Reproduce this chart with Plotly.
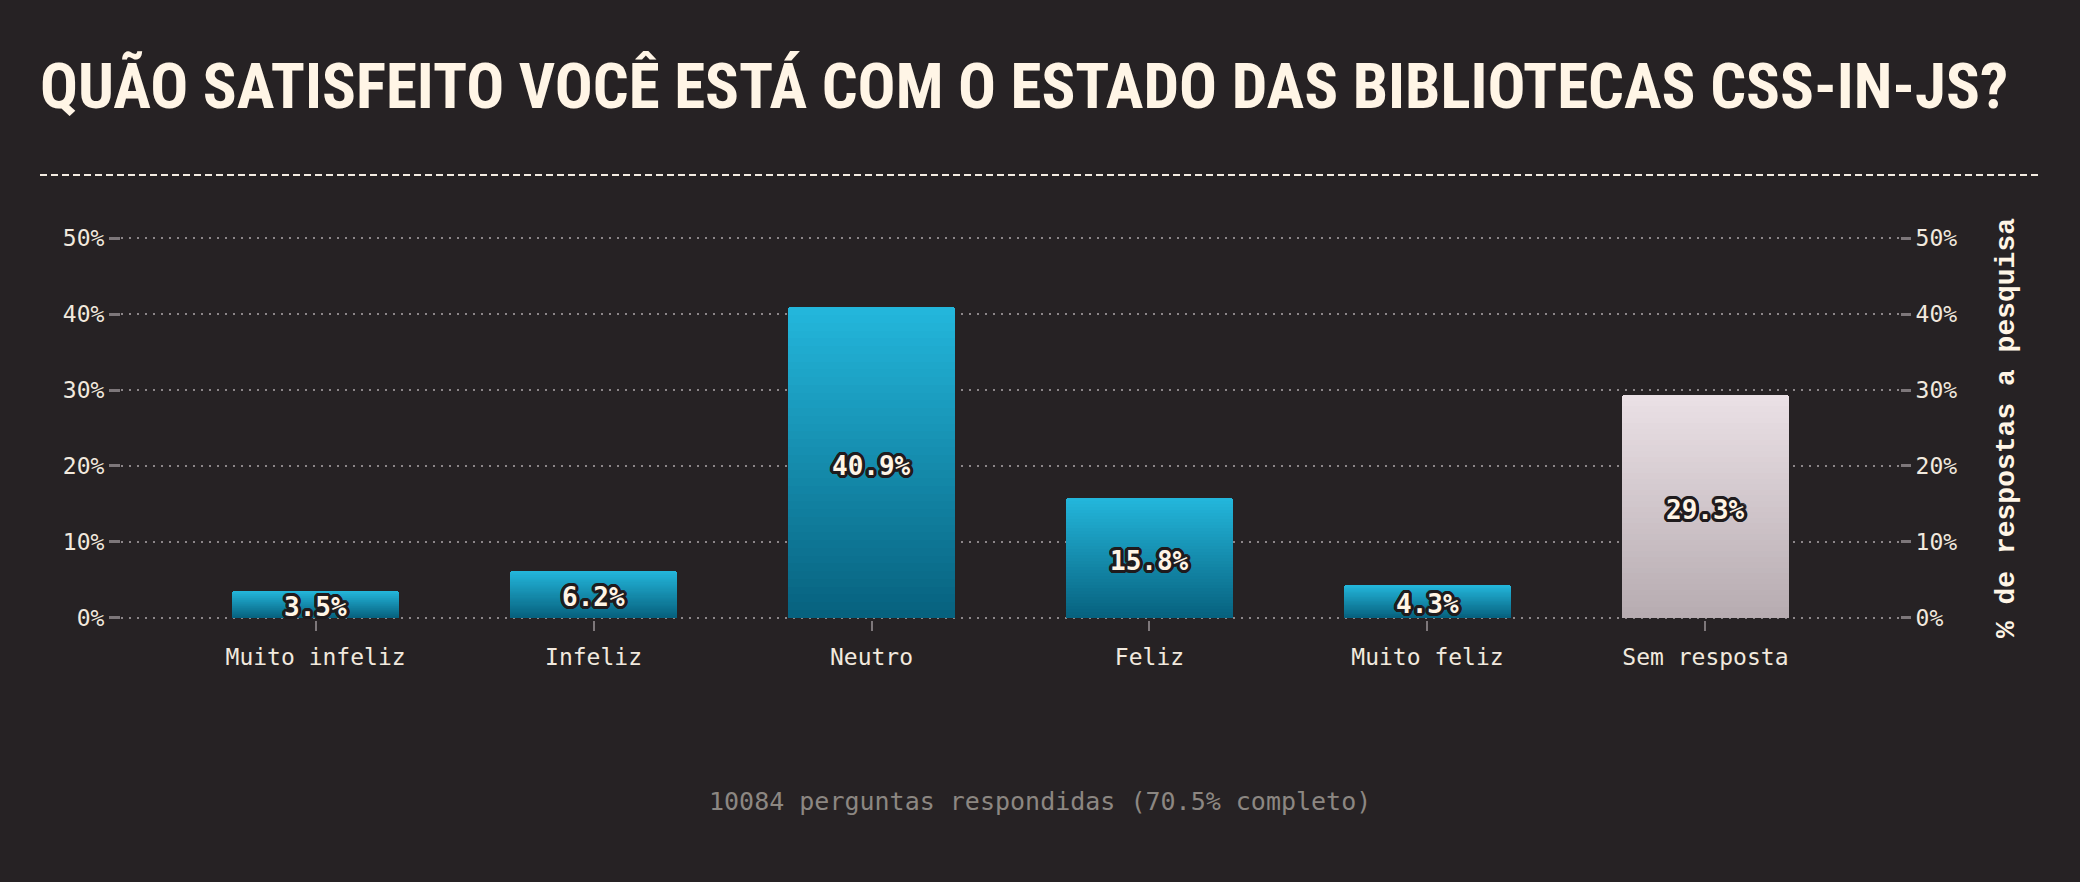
import plotly.graph_objects as go
import math

# ---- data ----
categories = ["Muito infeliz", "Infeliz", "Neutro", "Feliz", "Muito feliz", "Sem resposta"]
values = [3.5, 6.2, 40.9, 15.8, 4.3, 29.3]
tick_vals = [0, 10, 20, 30, 40, 50]
tick_text = ["0%", "10%", "20%", "30%", "40%", "50%"]
title_text = "QUÃO SATISFEITO VOCÊ ESTÁ COM O ESTADO DAS BIBLIOTECAS CSS-IN-JS?"
footer_text = "10084 perguntas respondidas (70.5% completo)"
axis_title = "% de respostas a pesquisa"

# ---- style ----
W, H = 2080, 882
BG = "#262224"
CREAM = "#fff5e6"
L, R, T, B = 121, 180, 236, 262
PH = H - T - B
YPAD = 0.3
blue_top, blue_bot = (0x23, 0xb6, 0xdb), (0x07, 0x62, 0x7f)
grey_top, grey_bot = (0xea, 0xe0, 0xe5), (0xb7, 0xac, 0xb1)

def mix(a, b, t):
    return "rgb(%d,%d,%d)" % tuple(round(a[i] + (b[i] - a[i]) * t) for i in range(3))

def paper_y(px):
    # pixel row -> paper coordinate
    return (H - B - px) / PH

fig = go.Figure()

N = 40
for k in range(N):
    t = k / (N - 1)
    colors = [mix(grey_top, grey_bot, t) if c == "Sem resposta" else mix(blue_top, blue_bot, t)
              for c in categories]
    marker = dict(color=colors, line=dict(width=0))
    if k == 0:
        marker["cornerradius"] = 3
    fig.add_trace(go.Bar(
        x=categories, y=[v * (N - k) / N for v in values],
        width=0.6, marker=marker, hoverinfo="skip", showlegend=False,
    ))

dirs = []
for i in range(16):
    a = 2 * math.pi * i / 16
    dirs.append("%.1fpx %.1fpx 0 #1f1b1d" % (3.2 * math.cos(a), 3.2 * math.sin(a)))
shadow = ", ".join(dirs)

fig.add_trace(go.Scatter(x=categories, y=values, yaxis="y2", mode="markers",
                         marker=dict(opacity=0), hoverinfo="skip", showlegend=False))

tickfont = dict(family="DejaVu Sans Mono", size=23, color="#f1e9de")

annotations = []
for c, v in zip(categories, values):
    annotations.append(dict(
        x=c, y=v / 2, xref="x", yref="y", text="%.1f%%" % v, showarrow=False,
        yshift=-3,
        font=dict(family="DejaVu Sans Mono", size=26, color=CREAM, weight="bold", shadow=shadow),
    ))
annotations.append(dict(
    text=footer_text, xref="paper", yref="paper",
    x=(1040 - L) / (W - L - R), y=paper_y(801),
    xanchor="center", yanchor="middle", showarrow=False,
    font=dict(family="DejaVu Sans Mono", size=25, color="#8c8782"),
))

fig.update_layout(
    width=W, height=H,
    paper_bgcolor=BG, plot_bgcolor=BG,
    margin=dict(l=L, r=R, t=T, b=B),
    barmode="overlay",
    bargap=0,
    showlegend=False,
    title=dict(
        text=title_text, x=40 / W, xanchor="left", xref="container",
        y=1 - 86 / H, yanchor="middle", yref="container",
        font=dict(family="Roboto Condensed, Open Sans Condensed, Roboto", size=63,
                  color=CREAM, weight="bold"),
    ),
    xaxis=dict(
        type="category", range=[-0.7, 5.7],
        showgrid=False, zeroline=False, showline=False,
        ticks="outside", ticklen=10, tickwidth=2, tickcolor="#7d777a",
        tickfont=tickfont, ticklabelstandoff=6,
    ),
    yaxis=dict(
        range=[-YPAD, 50 + YPAD], tickvals=tick_vals, ticktext=tick_text,
        showgrid=True, gridcolor="#8c8689", gridwidth=2, griddash="2px,6px",
        zeroline=False, showline=False,
        ticks="outside", ticklen=11, tickwidth=3, tickcolor="#7d777a",
        tickfont=tickfont,
    ),
    yaxis2=dict(
        overlaying="y", side="right", range=[-YPAD, 50 + YPAD], tickvals=tick_vals, ticktext=tick_text,
        showgrid=False, zeroline=False, showline=False,
        ticks="outside", ticklen=10, tickwidth=3, tickcolor="#7d777a",
        tickfont=tickfont,
        title=dict(text=axis_title, standoff=38,
                   font=dict(family="Liberation Mono", size=28, color=CREAM, weight="bold")),
    ),
    shapes=[dict(
        type="line", xref="paper", yref="paper",
        x0=(40 - L) / (W - L - R), x1=(2040 - L) / (W - L - R),
        y0=paper_y(175), y1=paper_y(175),
        line=dict(color="#f3ece2", width=2, dash="7px,4px"),
    )],
    annotations=annotations,
)

fig.write_html("out.html")
